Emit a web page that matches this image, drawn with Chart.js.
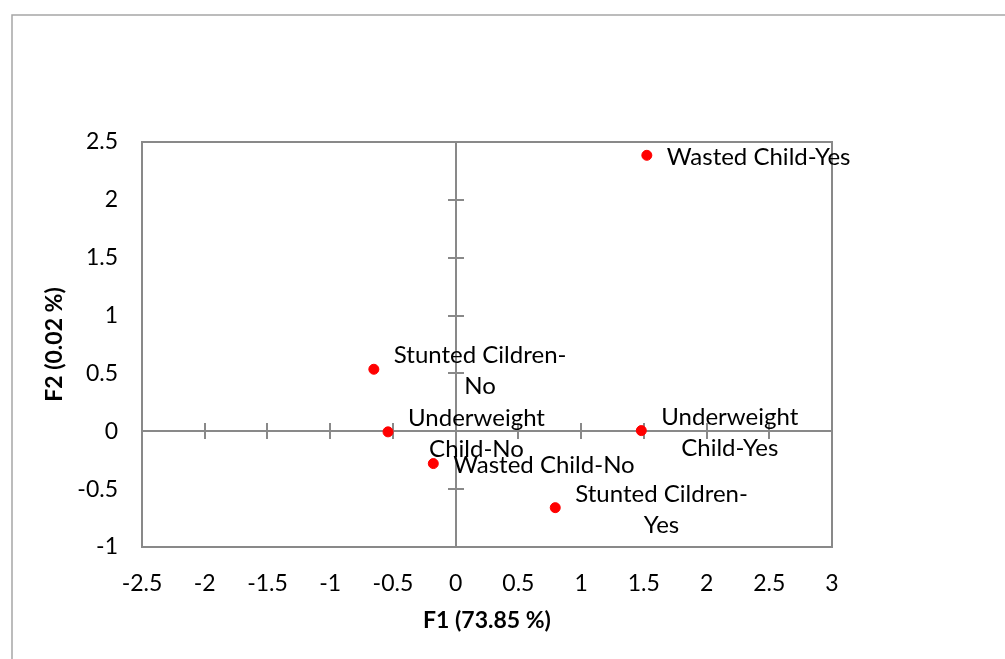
<!DOCTYPE html>
<html>
<head>
<meta charset="utf-8">
<style>
  body { margin: 0; background: #fff; }
  #myChart { display: block; }
</style>
<script src="https://cdn.jsdelivr.net/npm/chart.js@4/dist/chart.umd.min.js"></script>
</head>
<body>
<canvas id="myChart" width="1005" height="659"></canvas>
<script>
// category points (F1, F2)
const categories = ['Wasted Child-Yes', 'Stunted Cildren-No', 'Underweight Child-No', 'Wasted Child-No', 'Stunted Cildren-Yes', 'Underweight Child-Yes'];
const labelLines = [
    ['Wasted Child-Yes'],
    ['Stunted Cildren-', 'No'],
    ['Underweight', 'Child-No'],
    ['Wasted Child-No'],
    ['Stunted Cildren-', 'Yes'],
    ['Underweight', 'Child-Yes']
];
const f1Values = [1.524, -0.652, -0.539, -0.178, 0.794, 1.48];
const f2Values = [2.385, 0.536, -0.005, -0.279, -0.66, 0.006];
const xTitle = 'F1 (73.85 %)';
const yTitle = 'F2 (0.02 %)';

const FONT = 'Lato, "Open Sans", sans-serif';
const GREY = '#898989';

const points = categories.map((c, i) => ({ x: f1Values[i], y: f2Values[i] }));

const decorations = {
    id: 'decorations',
    beforeDraw(chart) {
        const ctx = chart.ctx;
        ctx.save();
        ctx.fillStyle = '#fff';
        ctx.fillRect(0, 0, chart.width, chart.height);
        ctx.strokeStyle = '#a6a6a6';
        ctx.lineWidth = 1.5;
        ctx.strokeRect(12, 15, 2000, 2000);
        ctx.restore();
    },
    beforeDatasetsDraw(chart) {
        const ctx = chart.ctx;
        const area = chart.chartArea;
        const xs = chart.scales.x, ys = chart.scales.y;
        const x0 = Math.round(xs.getPixelForValue(0));
        const y0 = Math.round(ys.getPixelForValue(0));
        ctx.save();
        ctx.strokeStyle = GREY;
        ctx.lineWidth = 2;
        ctx.strokeRect(area.left, area.top, area.right - area.left, area.bottom - area.top);
        ctx.beginPath();
        ctx.moveTo(area.left, y0); ctx.lineTo(area.right, y0);
        ctx.moveTo(x0, area.top); ctx.lineTo(x0, area.bottom);
        xs.ticks.forEach(t => {
            const px = Math.round(xs.getPixelForValue(t.value));
            ctx.moveTo(px, y0 - 8); ctx.lineTo(px, y0 + 8);
        });
        ys.ticks.forEach(t => {
            const py = Math.round(ys.getPixelForValue(t.value));
            ctx.moveTo(x0 - 8, py); ctx.lineTo(x0 + 8, py);
        });
        ctx.stroke();

        // axis titles
        ctx.fillStyle = '#000';
        ctx.font = 'bold 23px ' + FONT;
        ctx.textAlign = 'center';
        ctx.textBaseline = 'middle';
        ctx.fillText(xTitle, (area.left + area.right) / 2, 621);
        ctx.translate(55, (area.top + area.bottom) / 2);
        ctx.rotate(-Math.PI / 2);
        ctx.fillText(yTitle, 0, 0);
        ctx.restore();
    },
    afterDatasetsDraw(chart) {
        const ctx = chart.ctx;
        const meta = chart.getDatasetMeta(0);
        ctx.save();
        ctx.fillStyle = '#000';
        ctx.font = '24px ' + FONT;
        ctx.textBaseline = 'middle';
        ctx.textAlign = 'center';
        const lh = 31;
        meta.data.forEach((pt, i) => {
            const lines = labelLines[i];
            const w = Math.max(...lines.map(l => ctx.measureText(l).width));
            const cx = pt.x + 20 + w / 2;
            const top = pt.y + 2 - (lines.length - 1) * lh / 2;
            lines.forEach((l, j) => ctx.fillText(l, cx, top + j * lh));
        });
        ctx.restore();
    }
};

new Chart(document.getElementById('myChart'), {
    type: 'scatter',
    data: {
        datasets: [{
            label: 'Categories',
            data: points,
            backgroundColor: '#ff0000',
            borderColor: '#ff0000',
            pointRadius: 5,
            pointHoverRadius: 5
        }]
    },
    options: {
        responsive: false,
        animation: false,
        layout: { padding: { left: 0, top: 142, right: 173, bottom: 0 } },
        plugins: { legend: { display: false }, tooltip: { enabled: false } },
        scales: {
            x: {
                type: 'linear',
                min: -2.5,
                max: 3,
                afterFit: s => { s.height = 112; },
                grid: { display: false, drawTicks: false },
                border: { display: false },
                ticks: { stepSize: 0.5, padding: 23, color: '#000', font: { family: FONT, size: 23 }, callback: v => String(v) }
            },
            y: {
                type: 'linear',
                min: -1,
                max: 2.5,
                afterFit: s => { s.width = 142; },
                grid: { display: false, drawTicks: false },
                border: { display: false },
                ticks: { stepSize: 0.5, padding: 24, color: '#000', font: { family: FONT, size: 23 }, callback: v => String(v) }
            }
        }
    },
    plugins: [decorations]
});
</script>
</body>
</html>
